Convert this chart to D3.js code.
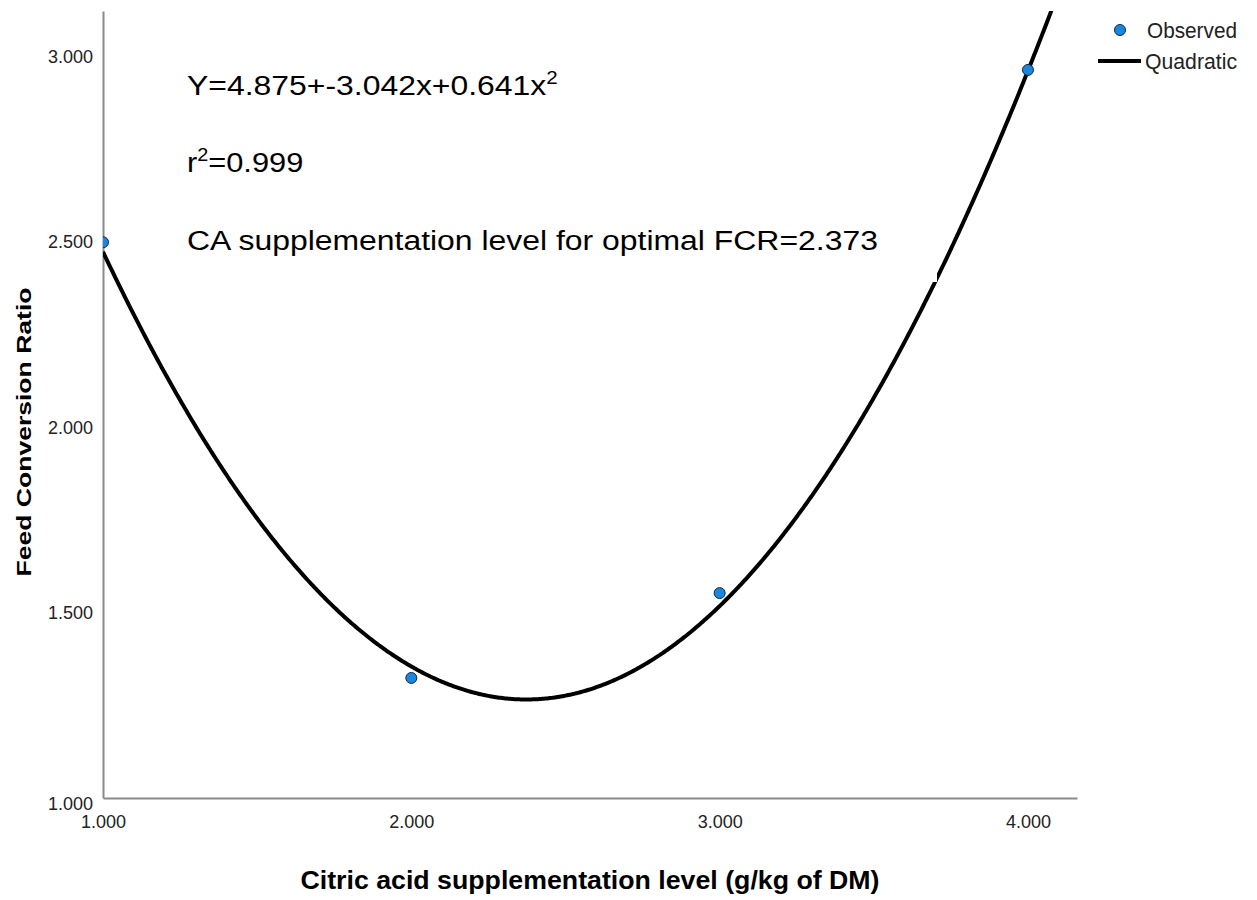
<!DOCTYPE html>
<html><head><meta charset="utf-8">
<script src="https://cdn.jsdelivr.net/npm/d3@7"></script>
<style>body{margin:0;background:#fff} svg{display:block}</style>
</head><body>
<svg id="c" width="1257" height="900"></svg>
<script>
// ---- data ----
const levels = [1, 2, 3, 4];
const observedFCR = [2.50, 1.324, 1.553, 2.965];
const quadCoef = [4.875, -3.042, 0.641];   // Y = b0 + b1 x + b2 x^2 (from chart text)
const xTicks = [1, 2, 3, 4];
const yTicks = [1, 1.5, 2, 2.5, 3];
const xTitle = "Citric acid supplementation level (g/kg of DM)";
const yTitle = "Feed Conversion Ratio";
const legendLabels = ["Observed", "Quadratic"];

// ---- layout ----
const svg = d3.select("#c");
const pLeft = 103, pRight = 1077, pTop = 11, pBottom = 798;
const x = d3.scaleLinear().domain([1, 4.159]).range([pLeft, pRight]);
const y = d3.scaleLinear().domain([1, 3.124]).range([pBottom, pTop]);
const font = "'Liberation Sans', Arial, sans-serif";
const fmt = d3.format(".3f");

// axes (no tick marks)
const yAxis = svg.append("g").attr("transform", `translate(${pLeft},0)`)
  .call(d3.axisLeft(y).tickValues(yTicks).tickFormat(fmt).tickSize(0).tickPadding(10));
yAxis.select(".domain").attr("stroke", "#8a8a8a").attr("stroke-width", 2);
yAxis.selectAll("text").attr("font-family", font).attr("font-size", 18).attr("fill", "#222")
  .attr("dy", d => d === 1 ? "0.65em" : "0.32em");

const xAxis = svg.append("g").attr("transform", `translate(0,${pBottom})`)
  .call(d3.axisBottom(x).tickValues(xTicks).tickFormat(fmt).tickSize(0).tickPadding(17));
xAxis.select(".domain").attr("stroke", "#8a8a8a").attr("stroke-width", 2);
xAxis.selectAll("text").attr("font-family", font).attr("font-size", 18).attr("fill", "#222");

// clip
svg.append("clipPath").attr("id", "plot").append("rect")
  .attr("x", pLeft).attr("y", pTop).attr("width", pRight - pLeft).attr("height", pBottom - pTop);

// quadratic fit curve
const quad = v => quadCoef[0] + quadCoef[1] * v + quadCoef[2] * v * v;
const xs = d3.range(1, 4.16, 0.005);
svg.append("path").attr("clip-path", "url(#plot)")
  .datum(xs)
  .attr("d", d3.line().x(d => x(d)).y(d => y(quad(d))))
  .attr("fill", "none").attr("stroke", "#000").attr("stroke-width", 4);

// small white patch (text box edge) over the curve
svg.append("rect").attr("x", 880).attr("y", 271).attr("width", 57).attr("height", 11).attr("fill", "#fff");

// observed points
svg.append("g").attr("clip-path", "url(#plot)")
  .selectAll("circle").data(levels.map((l, i) => [l, observedFCR[i]])).join("circle")
  .attr("cx", d => x(d[0])).attr("cy", d => y(d[1])).attr("r", 5.5)
  .attr("fill", "#1a86dc").attr("stroke", "#0d2a45").attr("stroke-width", 1);

// annotations
const ann = svg.append("g").attr("font-family", font).attr("fill", "#000");
const t1 = ann.append("text").attr("transform", "translate(187,95) scale(1.14,1)").attr("font-size", 28);
t1.append("tspan").text("Y=4.875+-3.042x+0.641x");
t1.append("tspan").attr("font-size", 18).attr("dy", -11).text("2");
const t2 = ann.append("text").attr("transform", "translate(187,172) scale(1.1,1)").attr("font-size", 28);
t2.append("tspan").text("r");
t2.append("tspan").attr("font-size", 18).attr("dy", -11).text("2");
t2.append("tspan").attr("dy", 11).text("=0.999");
ann.append("text").attr("transform", "translate(187,250) scale(1.14,1)").attr("font-size", 28)
  .text("CA supplementation level for optimal FCR=2.373");

// axis titles
svg.append("text").attr("x", 590).attr("y", 889).attr("text-anchor", "middle")
  .attr("font-family", font).attr("font-weight", "bold").attr("font-size", 26).attr("fill", "#000")
  .attr("textLength", 579).attr("lengthAdjust", "spacingAndGlyphs").text(xTitle);
svg.append("text").attr("transform", "translate(31,432) rotate(-90)").attr("text-anchor", "middle")
  .attr("font-family", font).attr("font-weight", "bold").attr("font-size", 21).attr("fill", "#000")
  .attr("textLength", 289).attr("lengthAdjust", "spacingAndGlyphs").text(yTitle);

// legend
const lg = svg.append("g").attr("font-family", font).attr("font-size", 22).attr("fill", "#222");
lg.append("circle").attr("cx", 1120).attr("cy", 30).attr("r", 5.5)
  .attr("fill", "#1a86dc").attr("stroke", "#0d2a45").attr("stroke-width", 1);
lg.append("text").attr("x", 1147).attr("y", 38).attr("textLength", 90)
  .attr("lengthAdjust", "spacingAndGlyphs").text(legendLabels[0]);
lg.append("line").attr("x1", 1098).attr("x2", 1141).attr("y1", 61).attr("y2", 61)
  .attr("stroke", "#000").attr("stroke-width", 4);
lg.append("text").attr("x", 1145).attr("y", 69).attr("textLength", 92)
  .attr("lengthAdjust", "spacingAndGlyphs").text(legendLabels[1]);
</script>
</body></html>
